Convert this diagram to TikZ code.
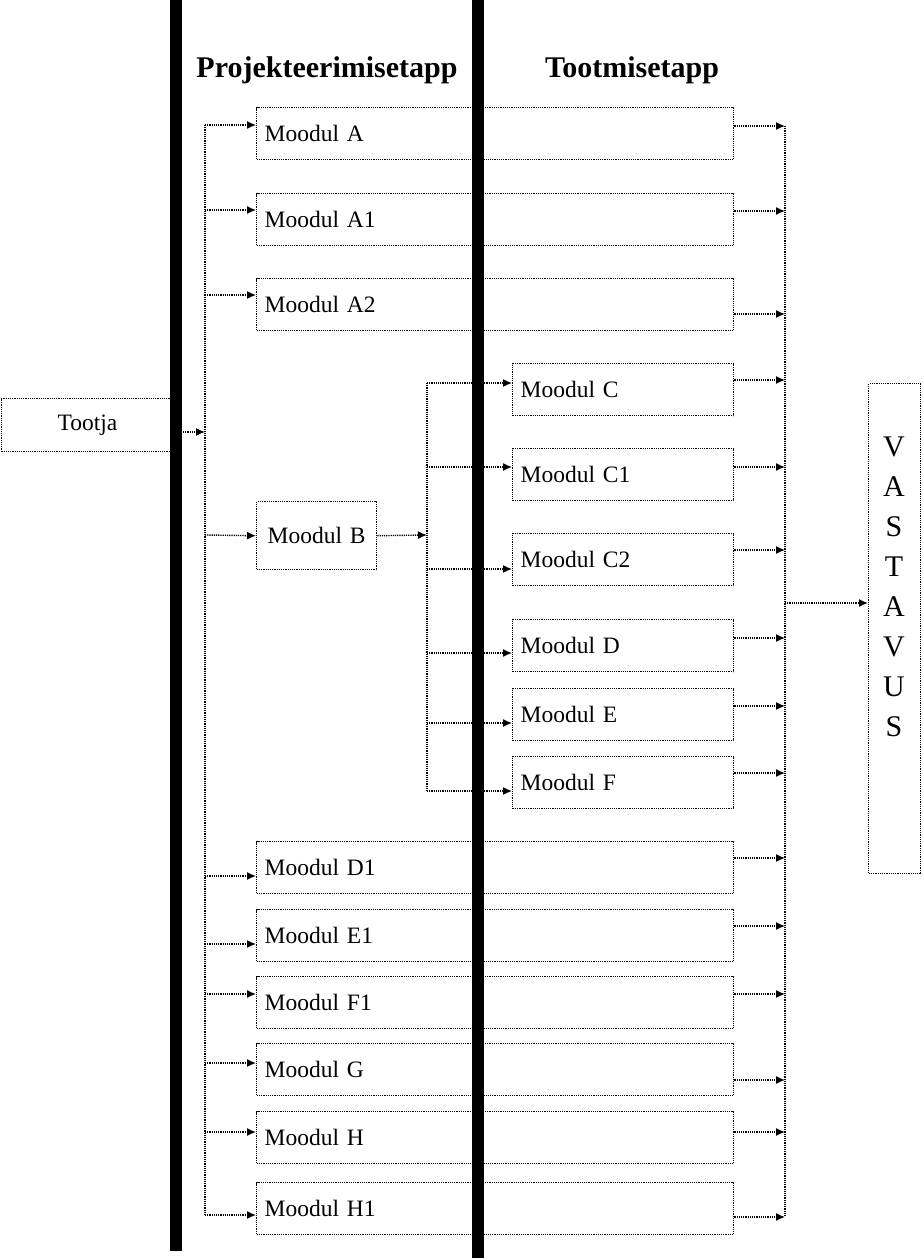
\documentclass[tikz,border=0pt]{standalone}
\usepackage{fontspec}
\setmainfont{Liberation Serif}
\usetikzlibrary{arrows.meta}

\tikzset{
  conn/.style={dash pattern=on 1.2pt off 1pt, line width=1.4pt},
  flow/.style={conn, -{Latex[length=9pt,width=8pt]}},
  modbox/.style={draw, dash pattern=on 1.2pt off 1pt, line width=1.4pt, inner xsep=8pt, inner ysep=0pt,
    align=left, minimum height=52pt, anchor=north west, font=\fontsize{23.5}{26}\selectfont},
  head/.style={anchor=base, font=\bfseries\fontsize{30}{34}\selectfont},
  bar/.style={line width=12pt}
}

\begin{document}
\begin{tikzpicture}[x=1pt, y=-1pt]
    \useasboundingbox (0,0) rectangle (922,1258);

    % Pealkirjad
    \node[head] (hproj) at (327,77) {Projekteerimisetapp};
    \node[head] (htoot) at (632,77) {Tootmisetapp};

    % Tootja
    \node[modbox, align=center, minimum width=172pt, minimum height=53pt] (tootja) at (0.7,398) {Tootja};
    \coordinate (tj) at (205,432);
    \draw[flow] (tootja.east |- tj) -- (tj);

    % Pikad moodulid: nimi/tekst/ylaserv/sisend/valjund
    \foreach \n/\txt/\top/\yin/\yout in {mA/Moodul A/107/125/126, mAa/Moodul A1/193/210/211,
        mAb/Moodul A2/278/295/314, mDa/Moodul D1/841/876/858, mEa/Moodul E1/909/944/926,
        mFa/Moodul F1/976/994/994, mG/Moodul G/1043/1063/1080, mH/Moodul H/1111/1132/1132,
        mHa/Moodul H1/1182/1215/1217} {
      \node[modbox, text width=461pt] (\n) at (256,\top) {\txt};
      \coordinate (li\n) at (205,\yin);
      \coordinate (ro\n) at (785,\yout);
      \draw[flow] (li\n) -- (li\n -| \n.west);
      \draw[flow] (ro\n -| \n.east) -- (ro\n);
    }

    % Moodul B
    \node[modbox, align=center, text width=104pt, minimum height=68pt] (mB) at (256,501) {Moodul B};
    \coordinate (limB) at (205,535);
    \coordinate (bj) at (427,535);
    \draw[flow] (limB) -- (mB.west);
    \draw[flow] (mB.east) -- (bj);

    % Lyhikesed moodulid
    \foreach \n/\txt/\top/\yin/\yout in {mC/Moodul C/363/383/380, mCa/Moodul C1/448/467/467,
        mCb/Moodul C2/533/569/550, mD/Moodul D/619/653/638, mE/Moodul E/688/723/706,
        mF/Moodul F/756/791/773} {
      \node[modbox, text width=205pt] (\n) at (512,\top) {\txt};
      \coordinate (bi\n) at (427,\yin);
      \coordinate (ro\n) at (785,\yout);
      \draw[flow] (bi\n) -- (bi\n -| \n.west);
      \draw[flow] (ro\n -| \n.east) -- (ro\n);
    }

    % Pysijooned
    \draw[conn] (limA) -- (limHa);
    \draw[conn] (bimC) -- (bimF);
    \draw[conn] (romA) -- (romHa);

    % Vastavus
    \node[draw, dash pattern=on 1.2pt off 1pt, line width=1.4pt, minimum width=52pt, minimum height=490pt,
      anchor=north west] (vast) at (868,383) {};
    \node[align=center, font=\fontsize{30}{40}\selectfont] (vastxt) at (894,587)
      {V\\A\\S\\T\\A\\V\\U\\S};
    \coordinate (vj) at (785,603);
    \draw[flow] (vj) -- (vj -| vast.west);

    % Etappide piirid
    \draw[bar] (176,0) -- (176,1251);
    \draw[bar] (478,0) -- (478,1258);
\end{tikzpicture}
\end{document}
